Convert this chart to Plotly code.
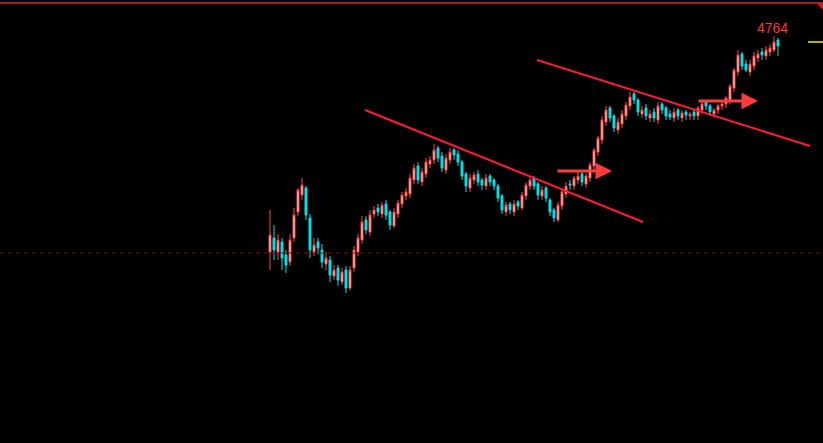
import plotly.graph_objects as go

# price values (label "4764" is the top high)
opens = [4548,4562,4548,4558,4545,4538,4562,4588,4605,4612,4582,4548,4558,4550,4536,4540,4524,4532,4518,4530,
         4512,4532,4548,4560,4580,4568,4586,4592,4586,4596,4588,4574,4586,4596,4604,4606,4620,4634,4618,4626,
         4636,4640,4652,4644,4630,4640,4650,4646,4638,4626,4612,4620,4626,4620,4614,4624,4620,4614,4604,4588,
         4596,4588,4598,4592,4604,4614,4622,4616,4604,4612,4600,4590,4580,4594,4606,4616,4614,4620,4626,4616,
         4622,4634,4648,4660,4678,4692,4684,4670,4676,4684,4694,4706,4700,4686,4692,4682,4688,4680,4696,4692,
         4686,4682,4690,4682,4688,4684,4688,4684,4690,4698,4694,4686,4690,4694,4696,4700,4712,4728,4746,4736,
         4728,4734,4742,4748,4744,4748,4750,4760]
highs = [4590,4575,4566,4562,4550,4566,4592,4612,4622,4614,4586,4562,4562,4556,4548,4544,4535,4535,4532,4534,
         4534,4554,4566,4584,4584,4590,4594,4596,4598,4600,4590,4592,4600,4608,4612,4626,4636,4638,4632,4642,
         4644,4656,4654,4648,4646,4652,4652,4650,4640,4628,4626,4628,4630,4622,4626,4626,4622,4616,4606,4598,
         4598,4600,4600,4608,4618,4622,4624,4618,4614,4614,4602,4592,4598,4610,4618,4620,4624,4628,4628,4626,
         4638,4652,4664,4684,4694,4694,4686,4682,4690,4698,4708,4708,4702,4694,4696,4690,4692,4698,4698,4694,
         4690,4692,4692,4690,4690,4688,4690,4694,4700,4700,4696,4692,4696,4698,4704,4716,4732,4750,4748,4740,
         4740,4748,4750,4752,4754,4756,4764,4762]
lows = [4530,4540,4540,4530,4527,4534,4558,4584,4600,4580,4542,4544,4546,4532,4530,4518,4520,4514,4515,4507,
        4510,4528,4544,4556,4566,4564,4582,4584,4582,4580,4570,4572,4582,4592,4600,4602,4616,4616,4614,4622,
        4632,4636,4638,4628,4626,4636,4640,4634,4620,4608,4608,4616,4614,4610,4610,4614,4610,4598,4586,4584,
        4586,4584,4590,4590,4600,4610,4610,4600,4600,4598,4584,4578,4578,4590,4602,4610,4610,4616,4614,4612,
        4618,4630,4644,4656,4674,4678,4668,4666,4672,4680,4690,4696,4684,4682,4680,4678,4678,4676,4686,4680,
        4680,4678,4680,4678,4680,4680,4680,4680,4686,4690,4684,4682,4686,4690,4692,4696,4708,4724,4730,4728,
        4724,4730,4738,4740,4740,4744,4748,4744]
closes = [4565,4550,4560,4542,4535,4560,4585,4610,4615,4585,4550,4555,4552,4538,4542,4525,4530,4520,4528,4512,
          4530,4550,4562,4578,4570,4585,4590,4588,4595,4585,4575,4588,4597,4605,4608,4622,4632,4620,4628,4638,
          4640,4650,4642,4632,4642,4648,4645,4638,4624,4614,4622,4625,4618,4615,4622,4618,4614,4602,4590,4595,
          4590,4596,4594,4605,4615,4620,4614,4605,4610,4602,4588,4582,4595,4608,4614,4615,4622,4624,4618,4624,
          4635,4650,4662,4680,4690,4682,4672,4678,4686,4695,4703,4700,4688,4690,4684,4686,4682,4694,4690,4684,
          4683,4688,4684,4687,4685,4686,4684,4692,4696,4694,4688,4690,4694,4696,4702,4714,4730,4745,4734,4730,
          4736,4744,4746,4745,4750,4752,4758,4754]
bars = list(range(len(closes)))

# trend lines (bar index, price)
trend1 = [(23.75, 4690), (93.25, 4578)]
trend2 = [(66.75, 4740), (135.0, 4654)]
arrows = [((71.5, 4629), (85.5, 4629)), ((106.75, 4699), (122.0, 4699))]
ref_level = 4547
label_value = 4764

fig = go.Figure(go.Candlestick(
    x=bars, open=opens, high=highs, low=lows, close=closes,
    increasing=dict(line=dict(color="#ff4040", width=1), fillcolor="#f0f0f0"),
    decreasing=dict(line=dict(color="#00e0e8", width=1), fillcolor="#00e0e8"),
    whiskerwidth=0, showlegend=False, hoverinfo="skip",
))

shapes = []
shapes.append(dict(type="line", xref="paper", yref="paper", x0=0, x1=1, y0=1 - 3/443, y1=1 - 3/443,
                   line=dict(color="#a51c1c", width=2)))
shapes.append(dict(type="path", xref="paper", yref="paper",
                   path="M %f %f L 1 %f L 1 %f Z" % (1 - 7/823, 1 - 3/443, 1 - 3/443, 1 - 10/443),
                   fillcolor="#d01818", line=dict(width=0)))
shapes.append(dict(type="line", xref="paper", yref="y", x0=0, x1=1, y0=ref_level, y1=ref_level,
                   line=dict(color="#8a0d0d", width=1, dash="4px,4px")))
shapes.append(dict(type="line", xref="paper", yref="y", x0=1 - 15/823, x1=1, y0=4758, y1=4758,
                   line=dict(color="#f0f000", width=1.5)))
for (a, b) in (trend1, trend2):
    shapes.append(dict(type="line", xref="x", yref="y", x0=a[0], y0=a[1], x1=b[0], y1=b[1],
                       line=dict(color="#ff1a33", width=2)))
fig.update_layout(shapes=shapes)

annotations = []
for (s, e) in arrows:
    annotations.append(dict(x=e[0], y=e[1], ax=s[0], ay=s[1], xref="x", yref="y", axref="x", ayref="y",
                            text="", showarrow=True, arrowhead=2, arrowsize=1.1, arrowwidth=3,
                            arrowcolor="#ff3c3c"))
annotations.append(dict(x=126, y=label_value, xref="x", yref="y", text=str(label_value), showarrow=False,
                        yshift=8, xshift=-2, font=dict(color="#ff3333", size=14, family="Liberation Sans")))
fig.update_layout(annotations=annotations)

fig.update_layout(
    width=823, height=443, margin=dict(l=0, r=0, t=0, b=0),
    paper_bgcolor="black", plot_bgcolor="black",
    xaxis=dict(range=[-67.5, 138.25], visible=False, rangeslider=dict(visible=False), fixedrange=True),
    yaxis=dict(range=[4357, 4800], visible=False, fixedrange=True),
)
fig.write_html("out.html", config=dict(displayModeBar=False),
               post_script="document.body.style.margin='0';document.body.style.background='black';")
